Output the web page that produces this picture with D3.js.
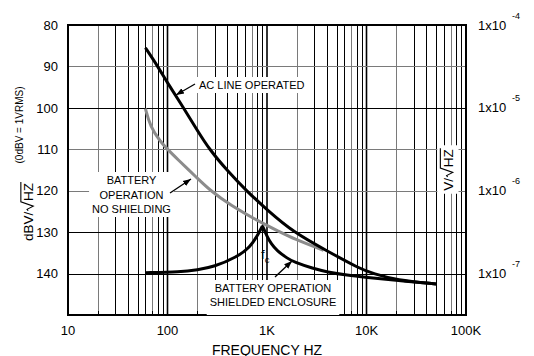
<!DOCTYPE html>
<html>
<head>
<meta charset="utf-8">
<script src="https://cdn.jsdelivr.net/npm/d3@7"></script>
<style>
  body { margin: 0; background: #fff; }
  svg { display: block; font-family: "Liberation Sans", Arial, Helvetica, sans-serif; }
</style>
</head>
<body>
<div id="chart"></div>
<script>
// AC line operated
const acFreq = [60, 80, 100, 145, 200, 263, 400, 620, 1000, 1835, 4000, 8650, 11700, 20000, 50000]
const acDb = [85.5, 90, 94, 100, 105.5, 110, 115.2, 120, 124.6, 130, 134.5, 138.9, 140, 141.6, 142.5]

// battery operation, no shielding
const battFreq = [60, 67, 85, 100, 125, 200, 264, 428, 857, 1310, 1850, 3700]
const battDb = [100.2, 104.5, 108.2, 110, 112.3, 117, 119.8, 123.5, 127.6, 129.8, 131.6, 134.4]

// battery operation, shielded enclosure: up to the fc peak, then down
const shieldRiseFreq = [60, 135, 200, 291, 500, 680, 824, 900]
const shieldRiseDb = [139.8, 139.6, 139.1, 138.4, 136.0, 133.6, 130.3, 128.5]
const shieldFallFreq = [900, 1000, 1100, 1260, 1600, 1850, 2920, 4000, 6400, 10000, 18700, 50000]
const shieldFallDb = [128.5, 131, 132.8, 134.5, 136.3, 137.2, 138.8, 139.6, 140.4, 140.9, 141.6, 142.5]

// axes
const xTicks = [10, 100, 1000, 10000, 100000]
const xTickLabels = ["10", "100", "1K", "10K", "100K"]
const yTicks = [80, 90, 100, 110, 120, 130, 140]
const vExponents = [-4, -5, -6, -7]

const W = 534, H = 356
const margin = {top: 25, right: 68, bottom: 41, left: 68}
const w = W - margin.left - margin.right
const h = H - margin.top - margin.bottom

const svg = d3.select("#chart").append("svg").attr("width", W).attr("height", H)
const g = svg.append("g").attr("transform", `translate(${margin.left},${margin.top})`)

const x = d3.scaleLog().domain([10, 1e5]).range([0, w])
const y = d3.scaleLinear().domain([80, 150]).range([0, h])
const v = d3.scaleLog().domain([1e-4, Math.pow(10, -7.5)]).range([0, h])

const crisp = p => Math.round(p) + 0.5

// layers
const gridLayer = g.append("g")
const boxLayer = svg.append("g")
const curveLayer = g.append("g")
const frameLayer = g.append("g")
const textLayer = svg.append("g")

// Gridlines.
const minor = []
for (let d = 10; d < 1e5; d *= 10) for (let m = 2; m <= 9; m++) minor.push({f: d * m, m})
gridLayer.selectAll(".minor").data(minor).join("line")
    .attr("x1", d => crisp(x(d.f))).attr("x2", d => crisp(x(d.f)))
    .attr("y1", 0).attr("y2", h)
    .attr("stroke", d => (d.m === 2 || d.m === 7) ? "#7a7a7a" : "#000")
    .attr("stroke-width", 1)
gridLayer.selectAll(".decade").data(xTicks.slice(1, -1)).join("line")
    .attr("x1", d => x(d)).attr("x2", d => x(d))
    .attr("y1", 0).attr("y2", h)
    .attr("stroke", "#000").attr("stroke-width", 1.6)
gridLayer.selectAll(".hgrid").data(yTicks.slice(1)).join("line")
    .attr("x1", 0).attr("x2", w)
    .attr("y1", d => crisp(y(d))).attr("y2", d => crisp(y(d)))
    .attr("stroke", d => (d === 90 || d === 110 || d === 120) ? "#7a7a7a" : "#000")
    .attr("stroke-width", 1)

// Curves.
const line = d3.line().x(d => x(d[0])).y(d => y(d[1])).curve(d3.curveBasis)
const zip = (a, b) => a.map((f, i) => [f, b[i]])
curveLayer.append("path").attr("d", line(zip(battFreq, battDb)))
    .attr("fill", "none").attr("stroke", "#8c8c8c").attr("stroke-width", 3)
curveLayer.append("path").attr("d", line(zip(acFreq, acDb)))
    .attr("fill", "none").attr("stroke", "#000").attr("stroke-width", 3)
curveLayer.append("path").attr("d", line(zip(shieldRiseFreq, shieldRiseDb)))
    .attr("fill", "none").attr("stroke", "#000").attr("stroke-width", 3)
curveLayer.append("path").attr("d", line(zip(shieldFallFreq, shieldFallDb)))
    .attr("fill", "none").attr("stroke", "#000").attr("stroke-width", 3)

// Frame and small inner ticks on the bottom edge.
frameLayer.selectAll(".btick").data(minor).join("line")
    .attr("x1", d => crisp(x(d.f))).attr("x2", d => crisp(x(d.f)))
    .attr("y1", h - 4).attr("y2", h)
    .attr("stroke", "#000")
frameLayer.append("rect").attr("x", 0).attr("y", 0).attr("width", w).attr("height", h)
    .attr("fill", "none").attr("stroke", "#000").attr("stroke-width", 2)

// Axis labels.
g.append("g").selectAll("text").data(yTicks).join("text")
    .attr("x", -10).attr("y", d => y(d)).attr("dy", "0.36em")
    .attr("text-anchor", "end").attr("font-size", 13).text(d => d)
g.append("g").selectAll("text").data(xTicks).join("text")
    .attr("x", d => x(d)).attr("y", h + 20)
    .attr("text-anchor", "middle").attr("font-size", 13)
    .text((d, i) => xTickLabels[i])
g.append("text").attr("x", w / 2).attr("y", h + 39.5)
    .attr("text-anchor", "middle").attr("font-size", 14).text("FREQUENCY HZ")

const right = g.append("g").selectAll("g").data(vExponents).join("g")
    .attr("transform", d => `translate(${w + 12},${v(Math.pow(10, d))})`)
right.append("text").attr("y", 4.5).attr("font-size", 13).text("1x10")
right.append("text").attr("x", 34).attr("y", -6.5).attr("font-size", 9).text(d => d)

// Text with a radical over "HZ".
function rootLabel(parent, prefix, size, bx, cy) {
  const grp = parent.append("g")
  const t1 = grp.append("text").attr("font-size", size).text(prefix)
  const l1 = t1.node().getComputedTextLength()
  const rx = l1 + 1
  const hx = rx + 0.72 * size
  const t2 = grp.append("text").attr("x", hx).attr("font-size", size).text("HZ")
  const l2 = t2.node().getComputedTextLength()
  const s = size
  grp.append("path")
      .attr("d", `M${rx},${-0.36 * s}L${rx + 0.1 * s},${-0.44 * s}L${rx + 0.34 * s},${0.02 * s}L${rx + 0.66 * s},${-0.9 * s}L${hx + l2 + 1},${-0.9 * s}`)
      .attr("fill", "none").attr("stroke", "#000").attr("stroke-width", 1.1)
  const total = hx + l2
  grp.attr("transform", `translate(${bx},${cy}) rotate(-90) translate(${-total / 2},0)`)
  return grp
}

rootLabel(svg, "dBV/", 13.5, 33, 212)
svg.append("text").attr("transform", "translate(23,125) rotate(-90)")
    .attr("text-anchor", "middle").attr("font-size", 10).text("(0dBV = 1VRMS)")

// white box behind a group, from its screen box
function backBox(node, pad, toBottom) {
  const r = node.getBoundingClientRect()
  const y0 = r.top - pad[1]
  const y1 = toBottom ? margin.top + h : r.bottom + pad[1]
  boxLayer.append("rect")
      .attr("x", r.left - pad[0]).attr("y", y0)
      .attr("width", r.width + 2 * pad[0]).attr("height", y1 - y0)
      .attr("fill", "#fff")
}

const vLabel = rootLabel(textLayer, "V/", 13.5, 452.5, 170)
backBox(vLabel.node(), [3, 3], false)

// Notes.
function note(lines, xPos, anchor, baseline, lineH, toBottom) {
  const t = textLayer.append("text").attr("font-size", 11).attr("text-anchor", anchor)
  lines.forEach((s, i) => t.append("tspan").attr("x", xPos).attr("y", baseline + i * lineH).text(s))
  backBox(t.node(), [3, 2], toBottom)
}
note(["AC LINE OPERATED"], 199, "start", 89, 14, false)
note(["BATTERY", "OPERATION", "NO SHIELDING"], 131.5, "middle", 184, 14.5, false)
note(["BATTERY OPERATION", "SHIELDED ENCLOSURE"], 273, "middle", 292, 14, true)

const fc = textLayer.append("text").attr("x", 261).attr("y", 259).attr("font-size", 13)
fc.append("tspan").text("f")
fc.append("tspan").attr("font-size", 9.5).attr("dy", 4).text("c")

// Arrows.
svg.append("defs").append("marker")
    .attr("id", "head").attr("viewBox", "0 0 10 10")
    .attr("refX", 10).attr("refY", 5)
    .attr("markerWidth", 8).attr("markerHeight", 8)
    .attr("markerUnits", "userSpaceOnUse").attr("orient", "auto")
  .append("path").attr("d", "M0,1.2L10,5L0,8.8Z").attr("fill", "#000")

const arrows = [[195, 84, 176, 95], [170, 193, 191, 179], [275, 277, 292, 261]]
textLayer.selectAll(".arrow").data(arrows).join("line")
    .attr("x1", d => d[0]).attr("y1", d => d[1])
    .attr("x2", d => d[2]).attr("y2", d => d[3])
    .attr("stroke", "#000").attr("stroke-width", 1.3)
    .attr("marker-end", "url(#head)")
</script>
</body>
</html>
